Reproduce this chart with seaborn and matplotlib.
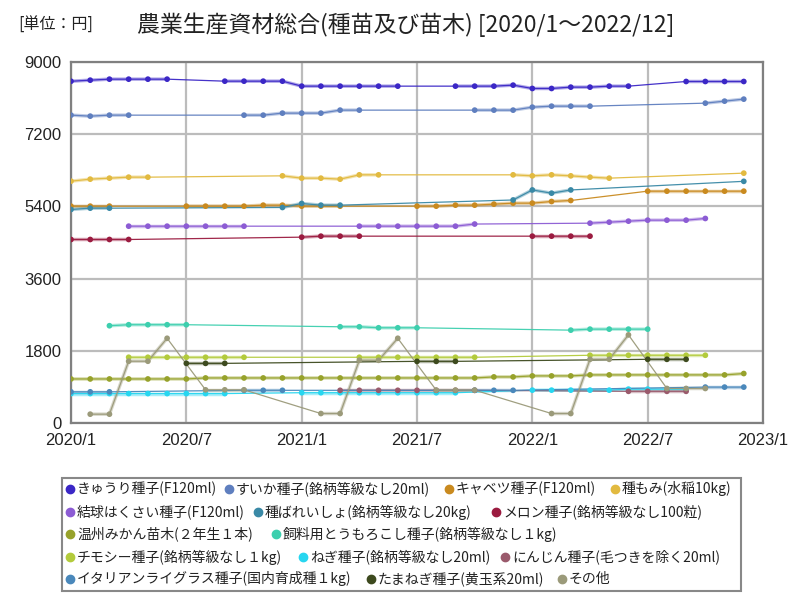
import numpy as np
import pandas as pd
import matplotlib
matplotlib.use("Agg")
import matplotlib.pyplot as plt
from matplotlib.lines import Line2D
from matplotlib.patches import Rectangle
import seaborn as sns

sns.set_style("white")
plt.rcParams['font.family'] = ['Noto Sans CJK JP', 'DejaVu Sans']

N = None
# month index 0 = 2020/1 ... 35 = 2022/12
kyuri = [8520, 8547, 8572, 8572, 8572, 8572, N, N, 8522, 8522, 8522, 8522,
         8398, 8398, 8398, 8398, 8398, 8398, N, N, 8398, 8398, 8398, 8423,
         8340, 8340, 8373, 8373, 8398, 8398, N, N, 8514, 8514, 8514, 8514]
suika = [7675, 7650, 7675, 7675, N, N, N, N, N, 7675, 7675, 7725,
         7725, 7725, 7800, 7800, N, N, N, N, N, 7800, 7800, 7800,
         7874, 7899, 7899, 7899, N, N, N, N, N, 7974, 8024, 8074]
cabbage = [5406, 5406, 5406, N, N, N, 5406, 5406, 5406, 5406, 5431, 5431,
           5406, 5406, 5406, N, N, N, 5406, 5406, 5431, 5431, 5456, 5481,
           5481, 5522, 5547, N, N, N, 5780, 5780, 5780, 5780, 5780, 5780]
tanemomi = [6029, 6079, 6104, 6129, 6129, N, N, N, N, N, N, 6162,
            6104, 6104, 6079, 6187, 6187, N, N, N, N, N, N, 6187,
            6162, 6187, 6162, 6129, 6104, N, N, N, N, N, N, 6229]
hakusai = [N, N, N, 4907, 4907, 4907, 4907, 4907, 4907, 4907, N, N,
           N, N, N, 4907, 4907, 4907, 4907, 4907, 4907, 4960, N, N,
           N, N, N, 4982, 5007, 5032, 5057, 5057, 5057, 5099, N, N]
bareisho = [5323, 5356, 5356, N, N, N, N, N, N, N, N, 5373,
            5473, 5431, 5431, N, N, N, N, N, N, N, N, 5560,
            5810, 5730, 5810, N, N, N, N, N, N, N, N, 6025]
melon = [4575, 4575, 4575, 4575, N, N, N, N, N, N, N, N,
         4633, 4658, 4658, 4658, N, N, N, N, N, N, N, N,
         4658, 4658, 4658, 4658, N, N, N, N, N, N, N, N]
mikan = [1098, 1098, 1098, 1098, 1098, 1098, 1098, 1123, 1123, 1123, 1123, 1123,
         1123, 1123, 1123, 1123, 1123, 1123, 1123, 1123, 1123, 1123, 1149, 1149,
         1174, 1174, 1174, 1199, 1199, 1199, 1199, 1199, 1199, 1199, 1199, 1233]
corn = [N, N, 2425, 2450, 2450, 2450, 2450, N, N, N, N, N,
        N, N, 2399, 2399, 2374, 2374, 2374, N, N, N, N, N,
        N, N, 2315, 2340, 2340, 2340, 2340, N, N, N, N, N]
timothy = [N, N, N, 1639, 1639, 1639, 1639, 1639, 1639, 1639, N, N,
           N, N, N, 1639, 1639, 1639, 1639, 1639, 1639, 1639, N, N,
           N, N, N, 1689, 1689, 1689, 1689, 1689, 1689, 1689, N, N]
negi = [734, 734, 734, 734, 734, 734, 734, 734, 734, N, N, N,
        755, 755, 755, 755, 755, 755, 755, 755, 755, N, N, N,
        819, 819, 819, 819, 819, 844, 844, 844, 844, N, N, N]
ninjin = [N, N, N, N, N, N, N, N, N, N, N, N,
          N, N, 815, 815, 815, 815, 815, 815, 815, 815, N, N,
          N, N, N, N, N, 790, 790, 790, 790, N, N, N]
italian = [777, 777, 777, N, N, N, N, N, N, 815, 815, 815,
           N, N, N, N, N, N, N, N, N, 815, 815, 815,
           N, N, N, N, N, N, N, N, N, 895, 895, 895]
tamanegi = [N, N, N, N, N, N, 1487, 1487, 1487, N, N, N,
            N, N, N, N, N, N, 1537, 1537, 1537, N, N, N,
            N, N, N, N, N, N, 1588, 1588, 1588, N, N, N]
other = [N, 220, 220, 1540, 1540, 2112, N, 827, 827, 827, N, N,
         N, 236, 236, 1563, 1563, 2112, N, 819, 819, 819, N, N,
         N, 236, 236, 1588, 1588, 2197, N, 861, 861, 861, N, N]

names = ["きゅうり種子(F120ml)", "すいか種子(銘柄等級なし20ml)", "キャベツ種子(F120ml)", "種もみ(水稲10kg)",
         "結球はくさい種子(F120ml)", "種ばれいしょ(銘柄等級なし20kg)", "メロン種子(銘柄等級なし100粒)",
         "温州みかん苗木(２年生１本)", "飼料用とうもろこし種子(銘柄等級なし１kg)",
         "チモシー種子(銘柄等級なし１kg)", "ねぎ種子(銘柄等級なし20ml)", "にんじん種子(毛つきを除く20ml)",
         "イタリアンライグラス種子(国内育成種１kg)", "たまねぎ種子(黄玉系20ml)", "その他"]
series = [kyuri, suika, cabbage, tanemomi, hakusai, bareisho, melon, mikan, corn,
          timothy, negi, ninjin, italian, tamanegi, other]
colors = ["#3b27c6", "#5f7fbf", "#c98a1f", "#e2ba40", "#8c5cd4", "#3a89a6", "#9b1b40",
          "#97a22b", "#3dcfae", "#b3cb3c", "#27d6f0", "#9a5a6c", "#4a88bb", "#3d4a1e", "#9b9a7a"]
x_labels = ["2020/1", "2020/7", "2021/1", "2021/7", "2022/1", "2022/7", "2023/1"]
y_ticks = [0, 1800, 3600, 5400, 7200, 9000]

rows = []
for name, vals in zip(names, series):
    run = 0
    prev = None
    for m, v in enumerate(vals):
        if v is None:
            continue
        if prev is not None and m != prev + 1:
            run += 1
        rows.append({"month": m, "value": v, "series": name, "run": f"{name}_{run}"})
        prev = m
df = pd.DataFrame(rows)
palette = dict(zip(names, colors))

fig = plt.figure(figsize=(8, 6), dpi=100)
ax = fig.add_axes([71 / 800, 1 - 423 / 600, (763 - 71) / 800, (423 - 62) / 600])

# thick translucent segments for consecutive months
sns.lineplot(data=df, x="month", y="value", hue="series", units="run", estimator=None,
             palette=palette, hue_order=names, lw=2.5, alpha=0.4, legend=False, ax=ax, sort=True)
# thin line joining all points
sns.lineplot(data=df, x="month", y="value", hue="series", units="series", estimator=None,
             palette=palette, hue_order=names, lw=0.9, alpha=0.95, legend=False, ax=ax, sort=True)
sns.scatterplot(data=df, x="month", y="value", hue="series", palette=palette, hue_order=names,
                s=17, edgecolor="none", legend=False, ax=ax, zorder=5)

ax.set_xlim(0, 36)
ax.set_ylim(0, 9000)
ax.set_xticks(range(0, 37, 6))
ax.set_xticklabels(x_labels)
ax.set_yticks(y_ticks)
ax.set_yticklabels([str(t) for t in y_ticks])
ax.set_xlabel("")
ax.set_ylabel("")
ax.grid(True, color="#bcbcbc", lw=1.6)
ax.set_axisbelow(True)
for sp in ax.spines.values():
    sp.set_color("#808080")
    sp.set_linewidth(1.6)
ax.tick_params(length=0, labelsize=12, pad=7, colors="#222222")
for lab in ax.get_xticklabels() + ax.get_yticklabels():
    lab.set_family(['Liberation Sans', 'DejaVu Sans'])

# titles
fig.text(18 / 800, 1 - 25 / 600, "[単位：円]", fontsize=11.5, va="center", ha="left", color="#222222")
fig.text(137 / 800, 1 - 25 / 600, "農業生産資材総合(種苗及び苗木) [2020/1～2022/12]",
         fontsize=16.5, va="center", ha="left", color="#222222")

# legend (flow layout)
fig.add_artist(Rectangle((62 / 800, 1 - 591 / 600), (741 - 62) / 800, (591 - 478) / 600,
                         transform=fig.transFigure, fill=False, edgecolor="#888888", lw=1.5))
legend_rows = [
    (489, [(0, 70), (1, 229), (2, 449), (3, 615)]),
    (512, [(4, 70), (5, 258), (6, 496)]),
    (534, [(7, 70), (8, 276)]),
    (557, [(9, 70), (10, 303), (11, 505)]),
    (579, [(12, 70), (13, 371), (14, 562)]),
]
for ypx, items in legend_rows:
    for idx, xpx in items:
        fig.add_artist(Line2D([xpx / 800], [1 - ypx / 600], marker="o", ms=6, color=colors[idx],
                              lw=0, transform=fig.transFigure))
        fig.text((xpx + 7) / 800, 1 - ypx / 600, names[idx], fontsize=10, va="center", ha="left",
                 color="#222222")

fig.savefig("out.png", dpi=100)
